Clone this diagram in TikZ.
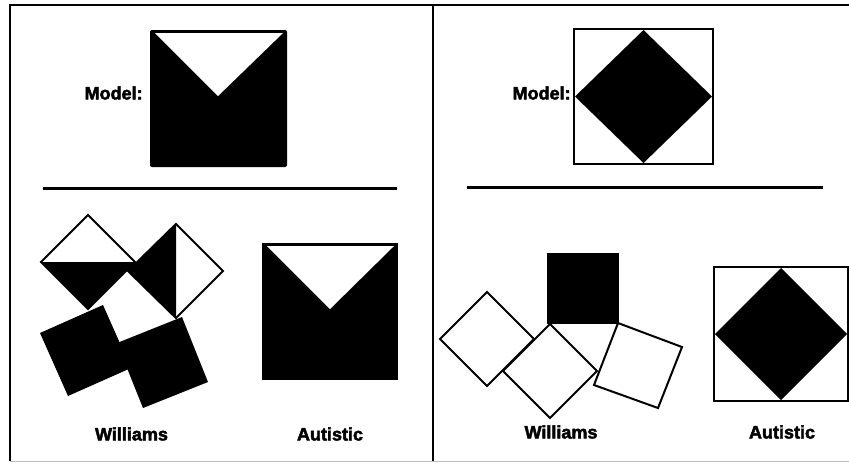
\documentclass[tikz,border=0pt]{standalone}
\usepackage{fontspec}
\newfontfamily\heavyfont[FakeBold=2.5]{Liberation Sans Bold}
\tikzset{
  lbl/.style={font=\heavyfont\fontsize{9}{11}\selectfont, inner sep=0pt},
  tile/.style={draw=black, line width=1pt, fill=white, line join=miter},
  frameline/.style={line width=1pt}
}
\begin{document}
\begin{tikzpicture}[x=0.5pt,y=-0.5pt]
    \useasboundingbox (0,0) rectangle (849,463);
    \draw [frameline] (849,5) -- (10,5) -- (10,461);
    \draw [frameline] (433,5) -- (433,461);
    \draw [line width=0.4pt,gray!50] (10,461) -- (849,461);
    % left panel
    \fill [rounded corners=1pt] (150,30) rectangle (287,167);
    \fill [white] (155,33) -- (283,33) -- (218,96) -- cycle;
    \node [lbl,anchor=east] (modelL) at (143,93) {Model:};
    \draw [line width=1.5pt] (43,188) -- (397,188);
    \draw [tile] (88,215) -- (135,262) -- (88,309) -- (41,262) -- cycle;
    \fill (41,262) -- (135,262) -- (88,309) -- cycle;
    \draw [tile] (176,224) -- (223,271) -- (176,318) -- (128,271) -- cycle;
    \fill (176,224) -- (176,318) -- (128,271) -- cycle;
    \fill (40,333) -- (103,305) -- (131,368) -- (68,396) -- cycle;
    \fill (117,343) -- (182,317) -- (208,382) -- (143,408) -- cycle;
    \fill (262,243) rectangle (398,380);
    \fill [white] (267,246) -- (394,246) -- (330,309) -- cycle;
    \node [lbl] (willL) at (131.5,434) {Williams};
    \node [lbl] (autL) at (330,434) {Autistic};
    % right panel
    \draw [frameline] (574,29) rectangle (713,164);
    \fill (643.5,30) -- (712,96.5) -- (643.5,163) -- (575,96.5) -- cycle;
    \node [lbl,anchor=east] (modelR) at (571,93) {Model:};
    \draw [line width=1.5pt] (467,187) -- (823,187);
    \draw [tile] (487,292) -- (534,339) -- (487,386) -- (440,339) -- cycle;
    \draw [tile] (550,324) -- (597,371) -- (550,418) -- (503,371) -- cycle;
    \draw [tile] (618,323) -- (682,347) -- (658,408) -- (594,385) -- cycle;
    \draw [tile,fill=black] (548,254) rectangle (618,323);
    \draw [frameline] (714,267) rectangle (848,401);
    \fill (781,268) -- (847,334) -- (781,400) -- (715,334) -- cycle;
    \node [lbl] (willR) at (561,432) {Williams};
    \node [lbl] (autR) at (782,432) {Autistic};
\end{tikzpicture}
\end{document}
